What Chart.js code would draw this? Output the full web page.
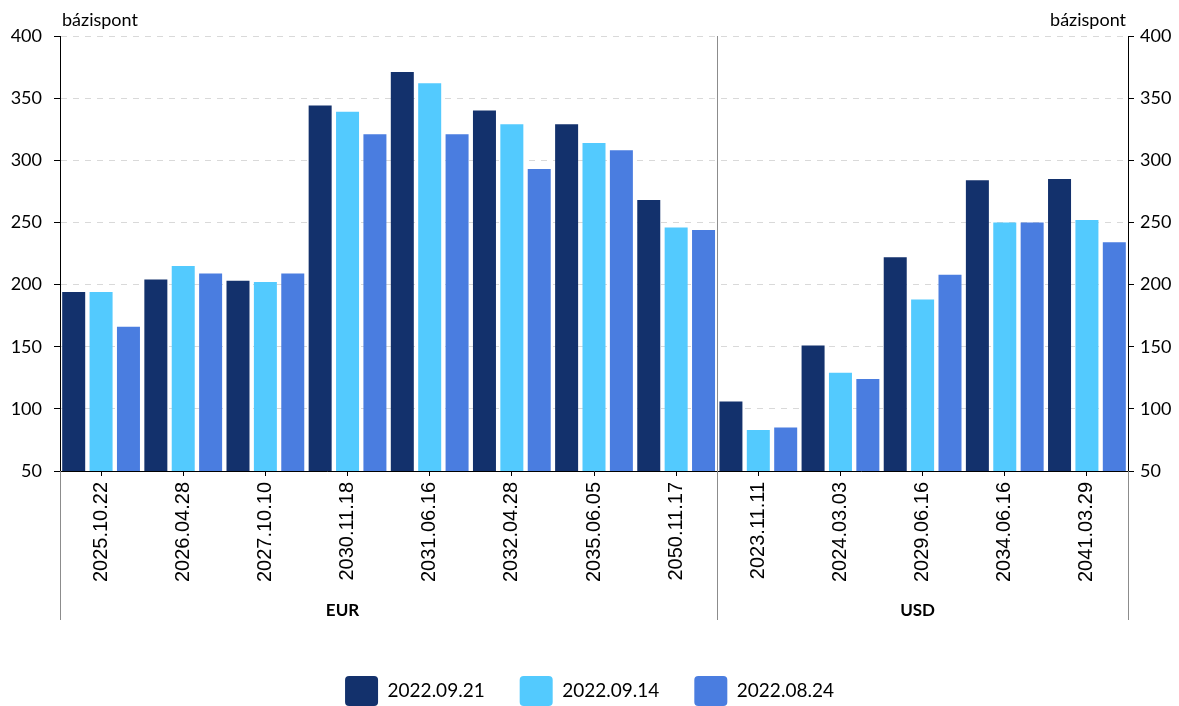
<!DOCTYPE html>
<html>
<head>
<meta charset="utf-8">
<script src="https://cdn.jsdelivr.net/npm/chart.js@4/dist/chart.umd.min.js"></script>
<style>
  html, body { margin: 0; padding: 0; background: #fff; }
  #wrap { width: 1179px; height: 706px; }
</style>
</head>
<body>
<div id="wrap"><canvas id="chart" width="1179" height="706"></canvas></div>
<script>
const maturities = [
  "2025.10.22", "2026.04.28", "2027.10.10", "2030.11.18", "2031.06.16",
  "2032.04.28", "2035.06.05", "2050.11.17",
  "2023.11.11", "2024.03.03", "2029.06.16", "2034.06.16", "2041.03.29"
];
const groups = [
  { name: "EUR", count: 8 },
  { name: "USD", count: 5 }
];
const seriesNames = ["2022.09.21", "2022.09.14", "2022.08.24"];
const s0921 = [194, 204, 203, 344, 371, 340, 329, 268, 106, 151, 222, 284, 285];
const s0914 = [194, 215, 202, 339, 362, 329, 314, 246, 83, 129, 188, 250, 252];
const s0824 = [166, 209, 209, 321, 321, 293, 308, 244, 85, 124, 208, 250, 234];
const colors = ["#13316c", "#53cafe", "#4a7de0"];
const unitLabel = "bázispont";

const FONT = "Lato, 'Open Sans', sans-serif";

// group labels under the rotated ticks + separator lines, axis unit titles
const groupPlugin = {
  id: "groups",
  afterDraw(chart) {
    const ctx = chart.ctx;
    const x = chart.scales.x;
    const area = chart.chartArea;
    const lineBottom = area.bottom + 149;
    ctx.save();
    ctx.strokeStyle = "#8c8c8c";
    ctx.lineWidth = 1;
    const edges = [area.left];
    let start = 0;
    groups.forEach((g, gi) => {
      const end = start + g.count - 1;
      const mid = start + Math.floor((g.count - 1) / 2);
      ctx.fillStyle = "#000";
      ctx.font = "bold 17px " + FONT;
      ctx.textAlign = "center";
      ctx.textBaseline = "middle";
      ctx.fillText(g.name, x.getPixelForValue(mid) - 5, area.bottom + 140);
      if (gi < groups.length - 1) {
        edges.push((x.getPixelForValue(end) + x.getPixelForValue(end + 1)) / 2);
      }
      start = end + 1;
    });
    edges.push(area.right);
    edges.forEach((px, i) => {
      const top = (i === 0 || i === edges.length - 1) ? area.bottom : area.top;
      ctx.beginPath();
      ctx.moveTo(Math.round(px) + 0.5, top);
      ctx.lineTo(Math.round(px) + 0.5, lineBottom);
      ctx.stroke();
    });
    ctx.fillStyle = "#000";
    ctx.font = "18px " + FONT;
    ctx.textBaseline = "alphabetic";
    ctx.textAlign = "left";
    ctx.fillText(unitLabel, area.left + 2, area.top - 10);
    ctx.textAlign = "right";
    ctx.fillText(unitLabel, area.right - 2, area.top - 10);
    ctx.restore();
  }
};

new Chart(document.getElementById("chart"), {
  type: "bar",
  data: {
    labels: maturities,
    datasets: [s0921, s0914, s0824].map((d, i) => ({
      label: seriesNames[i],
      data: d,
      backgroundColor: colors[i],
      borderWidth: 0,
      barPercentage: 0.84,
      categoryPercentage: 1.0,
      yAxisID: "y"
    }))
  },
  options: {
    responsive: false,
    animation: false,
    layout: { padding: { top: 36, bottom: -10, left: 0, right: 0 } },
    plugins: {
      tooltip: { enabled: false },
      legend: {
        position: "bottom",
        labels: {
          boxWidth: 33,
          boxHeight: 30,
          useBorderRadius: true,
          borderRadius: 4,
          padding: 35,
          color: "#000",
          font: { family: FONT, size: 19 }
        }
      }
    },
    scales: {
      x: {
        grid: { display: true, drawOnChartArea: false, offset: false, tickLength: 5, tickColor: "#000" },
        border: { color: "#000" },
        ticks: {
          minRotation: 90, maxRotation: 90, padding: 6, color: "#000",
          font: { family: "'Liberation Sans', Arial, sans-serif", size: 20 }
        },
        afterFit(scale) { scale.height = 170; }
      },
      y: {
        position: "left",
        min: 50, max: 400,
        ticks: { stepSize: 50, padding: 12, color: "#000", font: { family: FONT, size: 18 } },
        grid: { color: "#d9d9d9", tickColor: "#000", tickLength: 6, tickBorderDash: [0, 0] },
        border: { color: "#000", dash: [6, 6] },
        afterFit(scale) { scale.width = 60; }
      },
      y2: {
        position: "right",
        min: 50, max: 400,
        ticks: { stepSize: 50, padding: 6, color: "#000", font: { family: FONT, size: 18 } },
        grid: { drawOnChartArea: false, tickColor: "#000", tickLength: 6 },
        border: { color: "#000" },
        afterFit(scale) { scale.width = 51; }
      }
    }
  },
  plugins: [groupPlugin]
});
</script>
</body>
</html>
